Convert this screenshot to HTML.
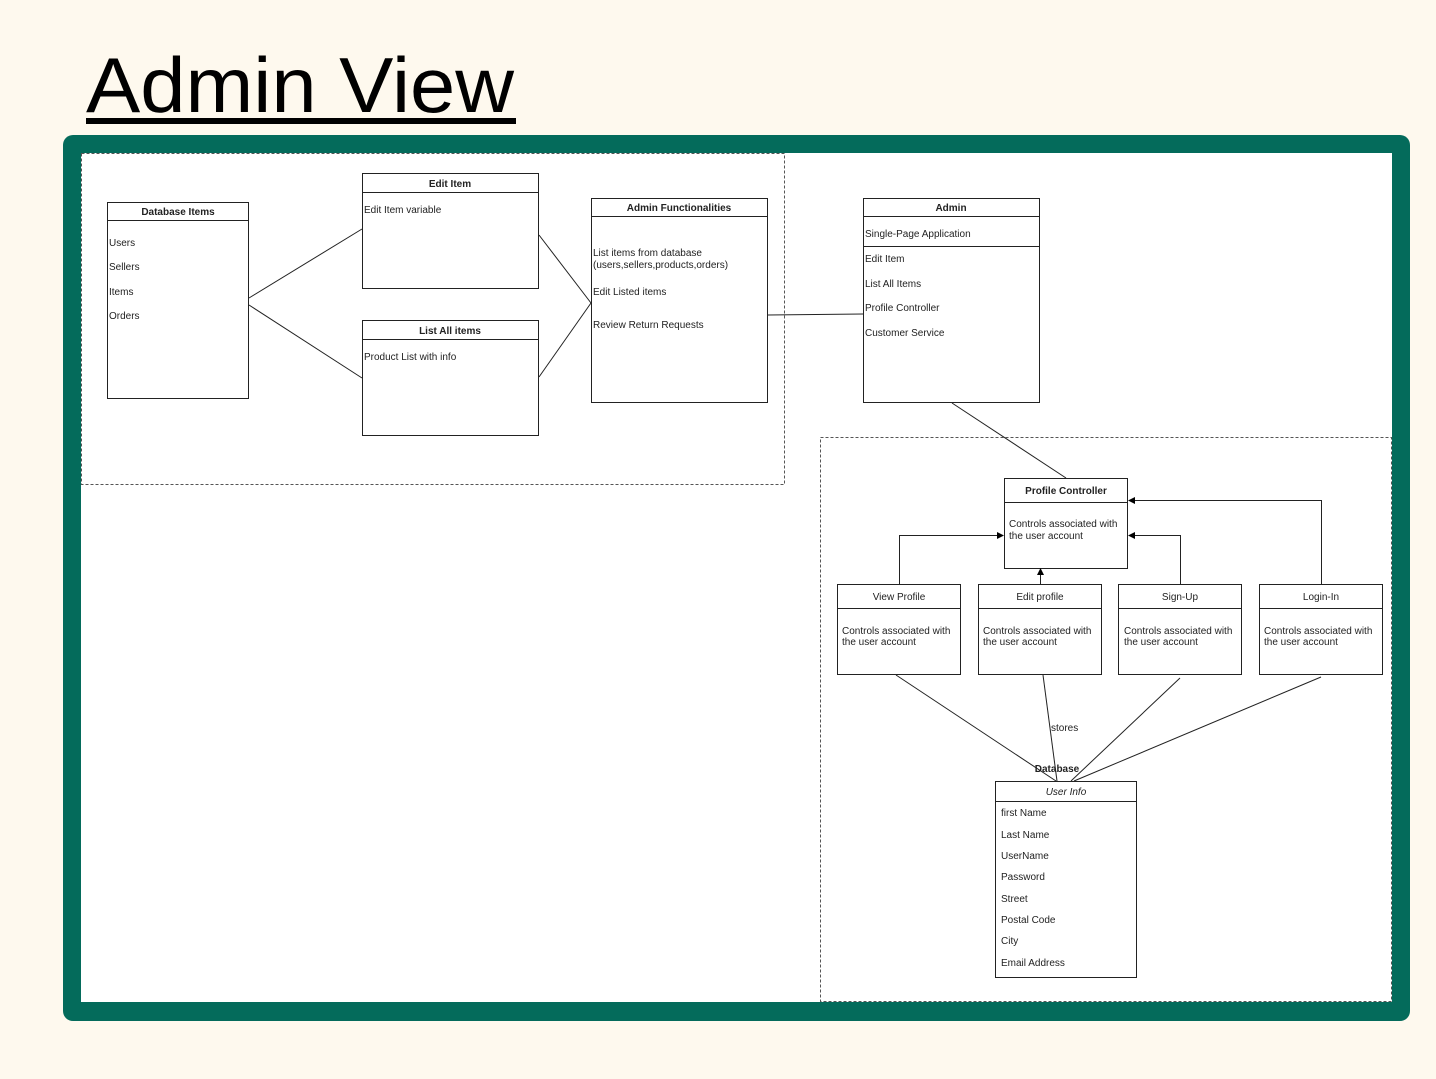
<!DOCTYPE html>
<html><head><meta charset="utf-8"><style>
html,body{margin:0;padding:0;background:#fef9ee;}
svg{display:block;}
text{font-family:"Liberation Sans",Arial,sans-serif;fill:#222;}
</style></head><body>
<svg width="1436" height="1079" viewBox="0 0 1436 1079" xmlns="http://www.w3.org/2000/svg">
<rect width="1436" height="1079" fill="#fef9ee"/>
<text x="86" y="112" font-size="78" textLength="428" lengthAdjust="spacingAndGlyphs" style="fill:#000">Admin View</text>
<rect x="86" y="118" width="430" height="6" fill="#000"/>
<rect x="63" y="135" width="1347" height="886" rx="10" fill="#046b5b"/>
<rect x="81" y="153" width="1311" height="849" fill="#fff"/>
<g fill="none" stroke="#555" stroke-dasharray="3,2" stroke-width="1">
<rect x="81.5" y="153.5" width="703" height="331"/>
<rect x="820.5" y="437.5" width="571" height="564"/>
</g>
<g fill="#fff" stroke="#222" stroke-width="1">
<rect x="107.5" y="202.5" width="141" height="196"/><line x1="107" y1="220.5" x2="249" y2="220.5"/>
<rect x="362.5" y="173.5" width="176" height="115"/><line x1="362" y1="192.5" x2="539" y2="192.5"/>
<rect x="362.5" y="320.5" width="176" height="115"/><line x1="362" y1="339.5" x2="539" y2="339.5"/>
<rect x="591.5" y="198.5" width="176" height="204"/><line x1="591" y1="216.5" x2="768" y2="216.5"/>
<rect x="863.5" y="198.5" width="176" height="204"/><line x1="863" y1="216.5" x2="1040" y2="216.5"/><line x1="863" y1="246.5" x2="1040" y2="246.5"/>
<rect x="1004.5" y="478.5" width="123" height="90"/><line x1="1004" y1="502.5" x2="1128" y2="502.5"/>
<rect x="837.5" y="584.5" width="123" height="90"/><line x1="837" y1="608.5" x2="961" y2="608.5"/>
<rect x="978.5" y="584.5" width="123" height="90"/><line x1="978" y1="608.5" x2="1102" y2="608.5"/>
<rect x="1118.5" y="584.5" width="123" height="90"/><line x1="1118" y1="608.5" x2="1242" y2="608.5"/>
<rect x="1259.5" y="584.5" width="123" height="90"/><line x1="1259" y1="608.5" x2="1383" y2="608.5"/>
<rect x="995.5" y="781.5" width="141" height="196"/><line x1="995" y1="801.5" x2="1137" y2="801.5"/>
</g>
<g stroke="#222" stroke-width="1" fill="none">
<line x1="249" y1="298" x2="362" y2="229"/>
<line x1="249" y1="305" x2="362" y2="378"/>
<line x1="539" y1="235" x2="591" y2="303"/>
<line x1="539" y1="377" x2="591" y2="303"/>
<line x1="768" y1="315" x2="863" y2="314"/>
<line x1="952" y1="403" x2="1066" y2="478"/>
<polyline points="899.5,584 899.5,535.5 1000,535.5"/>
<line x1="1040.5" y1="584" x2="1040.5" y2="573"/>
<polyline points="1180.5,584 1180.5,535.5 1132,535.5"/>
<polyline points="1321.5,584 1321.5,500.5 1132,500.5"/>
<line x1="896" y1="675" x2="1056" y2="781"/>
<line x1="1043" y1="675" x2="1057" y2="781"/>
<line x1="1180" y1="678" x2="1071" y2="781"/>
<line x1="1321" y1="677" x2="1074" y2="781"/>
</g>
<g fill="#000">
<polygon points="1004,535.5 997,532 997,539"/>
<polygon points="1040.5,568 1037,575 1044,575"/>
<polygon points="1128,535.5 1135,532 1135,539"/>
<polygon points="1128,500.5 1135,497 1135,504"/>
</g>
<g font-size="10">
<text x="178" y="215" text-anchor="middle" font-weight="bold">Database Items</text>
<text x="109" y="246">Users</text><text x="109" y="270">Sellers</text><text x="109" y="295">Items</text><text x="109" y="319">Orders</text>
<text x="450" y="187" text-anchor="middle" font-weight="bold">Edit Item</text>
<text x="364" y="213">Edit Item variable</text>
<text x="450" y="334" text-anchor="middle" font-weight="bold">List All items</text>
<text x="364" y="360">Product List with info</text>
<text x="679" y="211" text-anchor="middle" font-weight="bold">Admin Functionalities</text>
<text x="593" y="256">List items from database</text>
<text x="593" y="268">(users,sellers,products,orders)</text>
<text x="593" y="295">Edit Listed items</text>
<text x="593" y="328">Review Return Requests</text>
<text x="951" y="211" text-anchor="middle" font-weight="bold">Admin</text>
<text x="865" y="237">Single-Page Application</text>
<text x="865" y="262">Edit Item</text><text x="865" y="287">List All Items</text><text x="865" y="311">Profile Controller</text><text x="865" y="336">Customer Service</text>
<text x="1066" y="494" text-anchor="middle" font-weight="bold">Profile Controller</text>
<text x="1009" y="527">Controls associated with</text><text x="1009" y="539">the user account</text>
<text x="899" y="600" text-anchor="middle">View Profile</text>
<text x="842" y="634">Controls associated with</text><text x="842" y="645">the user account</text>
<text x="1040" y="600" text-anchor="middle">Edit profile</text>
<text x="983" y="634">Controls associated with</text><text x="983" y="645">the user account</text>
<text x="1180" y="600" text-anchor="middle">Sign-Up</text>
<text x="1124" y="634">Controls associated with</text><text x="1124" y="645">the user account</text>
<text x="1321" y="600" text-anchor="middle">Login-In</text>
<text x="1264" y="634">Controls associated with</text><text x="1264" y="645">the user account</text>
<text x="1051" y="731">stores</text>
<text x="1057" y="772" text-anchor="middle" font-weight="bold">Database</text>
<text x="1066" y="795" text-anchor="middle" font-style="italic">User Info</text>
<text x="1001" y="816">first Name</text><text x="1001" y="838">Last Name</text><text x="1001" y="859">UserName</text><text x="1001" y="880">Password</text>
<text x="1001" y="902">Street</text><text x="1001" y="923">Postal Code</text><text x="1001" y="944">City</text><text x="1001" y="966">Email Address</text>
</g>
</svg>
</body></html>
